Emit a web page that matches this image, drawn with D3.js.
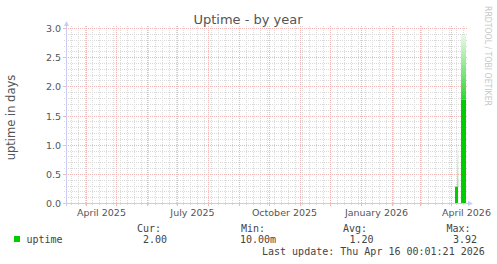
<!DOCTYPE html>
<html><head><meta charset="utf-8">
<script src="https://cdn.jsdelivr.net/npm/d3@7"></script>
<style>html,body{margin:0;padding:0;background:#fff;} svg{display:block}</style>
</head><body>
<script>
// ---- data ----
const title = "Uptime - by year";
const yAxisLabel = "uptime in days";
const watermark = "RRDTOOL / TOBI OETIKER";
const lastUpdate = "Last update: Thu Apr 16 00:01:21 2026";
const endTime = "2026-04-16T00:01:21Z";
const rangeDays = 400;
const yTicks = [0, 0.5, 1, 1.5, 2, 2.5, 3];
const yTickLabels = ["0.0", "0.5", "1.0", "1.5", "2.0", "2.5", "3.0"];
const xLabelMonths = ["2025-04-01", "2025-07-01", "2025-10-01", "2026-01-01", "2026-04-01"];
const xLabels = ["April 2025", "July 2025", "October 2025", "January 2026", "April 2026"];
const days = ["2026-04-05", "2026-04-06", "2026-04-07", "2026-04-08", "2026-04-09", "2026-04-10",
              "2026-04-11", "2026-04-12", "2026-04-13", "2026-04-14", "2026-04-15"];
const uptimeLow  = [0.28, 0.28, 0.28, 0, 0, 0, 1.77, 1.77, 1.77, 1.77, 1.77];
const uptimeHigh = [0.28, 0.28, 0.97, 0, 0, 0, 2.88, 2.88, 2.88, 2.88, 2.88];
const seriesName = "uptime";
const legendHeads = ["Cur:", "Min:", "Avg:", "Max:"];
const legendValues = ["2.00", "10.00m", "1.20", "3.92"];

// ---- layout ----
const W = 497, H = 264;
const X0 = 66, X1 = 466, Y0 = 203, Y1 = 28;
const green = "#00cc00";
const txt = "#555";
const axisCol = "#c8cdf0";
const mGrid = "#f2b6b6";
const grid = "#dadada";

const svg = d3.select("body").append("svg").attr("width", W).attr("height", H)
  .style("font-family", "'DejaVu Sans', sans-serif");
svg.append("rect").attr("width", W).attr("height", H).attr("fill", "#fff");

const end = new Date(endTime);
const start = d3.utcDay.offset(end, -rangeDays);
const x = d3.scaleUtc().domain([start, end]).range([X0 + 0.5, X1 + 0.5]);
const y = d3.scaleLinear().domain([0, 3]).range([Y0 + 0.5, Y1 + 0.5]);

const defs = svg.append("defs");
const lg = defs.append("linearGradient").attr("id", "fade")
  .attr("x1", 0).attr("y1", 0).attr("x2", 0).attr("y2", 1);
lg.append("stop").attr("offset", "0%").attr("stop-color", "#e8fae8");
lg.append("stop").attr("offset", "100%").attr("stop-color", "#30d530");

// ---- grid ----
const g = svg.append("g");
const minorY = d3.range(1, 30).map(i => i / 10).filter(v => Math.abs(v * 2 - Math.round(v * 2)) > 1e-6);
minorY.forEach(v => {
  const yy = Math.round(y(v) - 0.5) + 0.5;
  g.append("line").attr("x1", X0 - 2).attr("x2", X1 + 2).attr("y1", yy).attr("y2", yy)
    .attr("stroke", grid).attr("stroke-dasharray", "1,1");
});
const months = d3.utcMonth.range(start, end);
const monthSet = new Set(months.map(d => +d));
d3.utcMonday.range(start, end).filter(d => !monthSet.has(+d)).forEach(d => {
  const xx = Math.round(x(d) - 0.5) + 0.5;
  g.append("line").attr("x1", xx).attr("x2", xx).attr("y1", Y1 - 2).attr("y2", Y0 + 2)
    .attr("stroke", grid).attr("stroke-dasharray", "1,1");
});
yTicks.forEach(v => {
  const yy = Math.round(y(v) - 0.5) + 0.5;
  g.append("line").attr("x1", X0 - 2).attr("x2", X1 + 2).attr("y1", yy).attr("y2", yy)
    .attr("stroke", mGrid).attr("stroke-dasharray", "1,1");
  g.append("line").attr("x1", X0 - 3).attr("x2", X0).attr("y1", yy).attr("y2", yy).attr("stroke", mGrid);
});
months.forEach(d => {
  const xx = Math.round(x(d) - 0.5) + 0.5;
  g.append("line").attr("x1", xx).attr("x2", xx).attr("y1", Y1 - 2).attr("y2", Y0 + 2)
    .attr("stroke", mGrid).attr("stroke-dasharray", "1,1");
  g.append("line").attr("x1", xx).attr("x2", xx).attr("y1", Y0).attr("y2", Y0 + 3).attr("stroke", mGrid);
});

// ---- data columns ----
const dg = svg.append("g");
days.forEach((ds, i) => {
  const d0 = new Date(ds + "T00:01:21Z");
  const d1 = d3.utcDay.offset(d0, 1);
  const xa = Math.round(x(d0) - 0.5), xb = Math.round(x(d1) - 0.5);
  const yb = y(0) - 0.5, yl = y(uptimeLow[i]) - 0.5, yh = y(uptimeHigh[i]) - 0.5;
  const narrow = uptimeLow[i] < 1;
  if (uptimeHigh[i] > uptimeLow[i]) {
    dg.append("rect").attr("x", narrow ? xa + 0.5 : xa).attr("width", narrow ? 0.7 : xb - xa)
      .attr("y", yh).attr("height", yl - yh).attr("fill", "url(#fade)");
  }
  if (uptimeLow[i] > 0) {
    dg.append("rect").attr("x", xa).attr("width", xb - xa).attr("y", yl).attr("height", yb - yl)
      .attr("fill", green);
  }
});

// ---- axes ----
const ag = svg.append("g");
ag.append("line").attr("x1", X0 - 3).attr("x2", X1 + 3).attr("y1", Y0 + 0.5).attr("y2", Y0 + 0.5).attr("stroke", axisCol);
ag.append("line").attr("x1", X0 + 0.5).attr("x2", X0 + 0.5).attr("y1", Y0 + 3).attr("y2", Y1 - 3).attr("stroke", axisCol);
ag.append("path").attr("d", `M${X1 + 2},${Y0 - 2} L${X1 + 7},${Y0 + 0.5} L${X1 + 2},${Y0 + 3} Z`).attr("fill", axisCol);
ag.append("path").attr("d", `M${X0 - 2},${Y1 - 2} L${X0 + 0.5},${Y1 - 7} L${X0 + 3},${Y1 - 2} Z`).attr("fill", axisCol);

// ---- tick labels ----
yTicks.forEach((v, i) => {
  svg.append("text").attr("x", 61).attr("y", y(v) + 3.5).attr("text-anchor", "end")
    .attr("font-size", 9.5).attr("fill", txt).text(yTickLabels[i]);
});
xLabelMonths.forEach((m, i) => {
  const d = d3.utcHour.offset(new Date(m + "T00:00:00Z"), 15 * 24);
  svg.append("text").attr("x", x(d)).attr("y", 215.5).attr("text-anchor", "middle")
    .attr("font-size", 9.5).attr("fill", txt).text(xLabels[i]);
});

// ---- titles ----
svg.append("text").attr("x", 248).attr("y", 24).attr("text-anchor", "middle")
  .attr("font-size", 13).attr("fill", txt).text(title);
svg.append("text").attr("transform", `translate(15,${(Y0 + Y1) / 2 + 2}) rotate(-90)`)
  .attr("text-anchor", "middle").attr("font-size", 11.5).attr("fill", txt).text(yAxisLabel);
svg.append("text").attr("transform", `translate(485,6) rotate(90)`)
  .attr("font-size", 8.5).attr("fill", "#c8c8c8").attr("textLength", 100).attr("lengthAdjust", "spacingAndGlyphs")
  .text(watermark);

// ---- legend ----
const mono = "'DejaVu Sans Mono', monospace";
svg.append("rect").attr("x", 14).attr("y", 236).attr("width", 6).attr("height", 6).attr("fill", green);
svg.append("text").attr("x", 26.5).attr("y", 242.5).attr("font-family", mono).attr("font-size", 10)
  .attr("fill", "#444").text(seriesName);
const headX = [137, 241, 343, 446.5];
const valX = [143, 240, 349.5, 453];
legendHeads.forEach((h, i) => {
  svg.append("text").attr("x", headX[i]).attr("y", 231.5).attr("font-family", mono).attr("font-size", 10)
    .attr("fill", "#444").text(h);
  svg.append("text").attr("x", valX[i]).attr("y", 242.5).attr("font-family", mono).attr("font-size", 10)
    .attr("fill", "#444").text(legendValues[i]);
});
svg.append("text").attr("x", 262).attr("y", 254.5).attr("font-family", mono).attr("font-size", 10)
  .attr("fill", "#444").text(lastUpdate);
</script>
</body></html>
